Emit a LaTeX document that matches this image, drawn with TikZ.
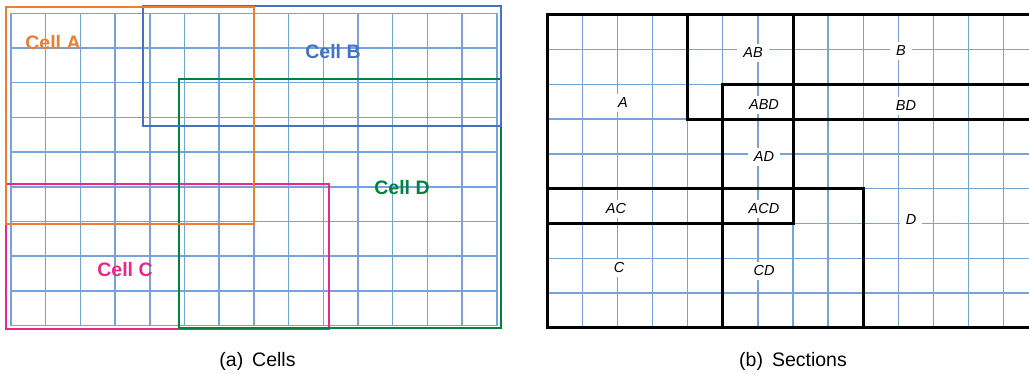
\documentclass[tikz,border=0pt]{standalone}
\usepackage{fontspec}
\setmainfont{Liberation Sans}
\usepackage{tikz}
\usetikzlibrary{positioning}
\usepackage{xcolor}

\definecolor{gridblue}{RGB}{118,164,217}
\definecolor{cellA}{RGB}{237,125,49}
\definecolor{cellB}{RGB}{68,114,196}
\definecolor{cellC}{RGB}{231,41,138}
\definecolor{cellD}{RGB}{0,132,61}

\tikzset{
    gridline/.style={gridblue, line width=1.5pt},
    cellbox/.style={line width=2.2pt},
    celllabel/.style={font=\fontsize{19.5}{22}\selectfont\bfseries, inner sep=0pt},
    secline/.style={black, line width=3pt},
    seclabel/.style={font=\fontsize{14.5}{16}\selectfont\itshape, fill=white, inner xsep=6pt, inner ysep=4pt},
    subcap/.style={font=\fontsize{19.5}{23}\selectfont, inner sep=0pt, anchor=base},
}

\begin{document}
\begin{tikzpicture}[x=1pt, y=-1pt]
    \useasboundingbox (0,0) rectangle (1029,373);

    % (a) Cells: background grid
    \begin{scope}[shift={(11,13.3)}, x=34.7pt, y=-34.7pt]
        \foreach \i in {0,...,14} \draw[gridline] (\i,0) -- (\i,9);
        \foreach \j in {0,...,9} \draw[gridline] (0,\j) -- (14,\j);
    \end{scope}

    % Cell outlines
    \draw[cellbox, cellC] (6,184) rectangle (329,329);
    \draw[cellbox, cellD] (179,79) rectangle (501,328);
    \draw[cellbox, cellB] (143,6) rectangle (501,126);
    \draw[cellbox, cellA] (6,7) rectangle (254,224);

    \node[celllabel, cellA] (cellAlbl) at (53,43) {Cell A};
    \node[celllabel, cellB] (cellBlbl) at (333,52) {Cell B};
    \node[celllabel, cellC] (cellClbl) at (125,270) {Cell C};
    \node[celllabel, cellD] (cellDlbl) at (402,188) {Cell D};

    % (b) Sections: same grid, cells snapped to it
    \begin{scope}[shift={(547.3,14.7)}, x=35.1pt, y=-34.8pt]
        \foreach \i in {0,...,14} \draw[gridline, line width=1.3pt] (\i,0) -- (\i,9);
        \foreach \j in {0,...,9} \draw[gridline, line width=1.3pt] (0,\j) -- (14,\j);
    \end{scope}

    \node[seclabel] (secA)   at (623,103) {A};
    \node[seclabel] (secAB)  at (753,53)  {AB};
    \node[seclabel] (secABD) at (764,105) {ABD};
    \node[seclabel] (secAD)  at (764,157) {AD};
    \node[seclabel] (secB)   at (901,51)  {B};
    \node[seclabel] (secBD)  at (906,106) {BD};
    \node[seclabel] (secAC)  at (616,209) {AC};
    \node[seclabel] (secACD) at (764,209) {ACD};
    \node[seclabel] (secC)   at (619,268) {C};
    \node[seclabel] (secCD)  at (764,271) {CD};
    \node[seclabel] (secD)   at (911,220) {D};

    \begin{scope}[shift={(547.3,14.7)}, x=35.1pt, y=-34.8pt]
        \draw[secline] (0,0) rectangle (7,6);   % A
        \draw[secline] (4,0) rectangle (14,3);  % B
        \draw[secline] (5,2) rectangle (14,9);  % D
        \draw[secline] (0,5) rectangle (9,9);   % C
    \end{scope}

    % Sub-captions
    \node[subcap] (capA) at (257.5,366) {(a)\hspace{9pt}Cells};
    \node[subcap] (capB) at (793,366) {(b)\hspace{9pt}Sections};

\end{tikzpicture}
\end{document}
